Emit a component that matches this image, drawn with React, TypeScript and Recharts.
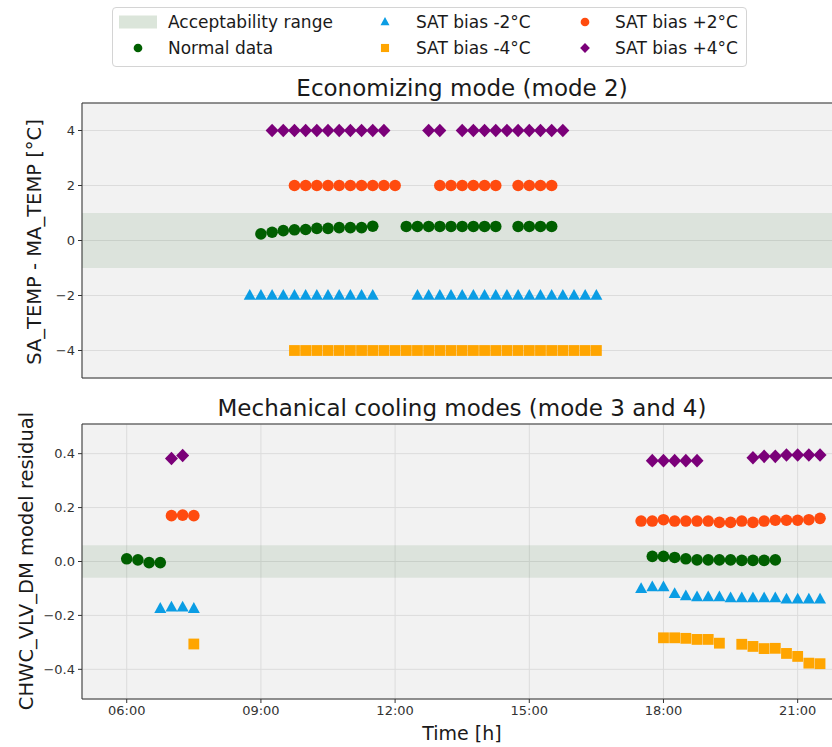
import React from 'react';
import {
  ScatterChart,
  Scatter,
  XAxis,
  YAxis,
  CartesianGrid,
  ReferenceArea,
  ReferenceLine,
} from 'recharts';

// ---- economizing mode (mode 2): SA_TEMP - MA_TEMP [°C] ----
const ECON_NORMAL_TIMES = [
  '09:00', '09:15', '09:30', '09:45', '10:00', '10:15', '10:30', '10:45', '11:00', '11:15', '11:30',
  '12:15', '12:30', '12:45', '13:00', '13:15', '13:30', '13:45', '14:00', '14:15',
  '14:45', '15:00', '15:15', '15:30',
];
const ECON_NORMAL_VALUES = [
  0.24, 0.3, 0.36, 0.39, 0.4, 0.44, 0.44, 0.47, 0.47, 0.47, 0.52,
  0.51, 0.51, 0.51, 0.51, 0.51, 0.51, 0.51, 0.51, 0.51,
  0.51, 0.51, 0.51, 0.51,
];
const ECON_MINUS2_TIMES = [
  '08:45', '09:00', '09:15', '09:30', '09:45', '10:00', '10:15', '10:30', '10:45', '11:00', '11:15', '11:30',
  '12:30', '12:45', '13:00', '13:15', '13:30', '13:45', '14:00', '14:15', '14:30', '14:45', '15:00',
  '15:15', '15:30', '15:45', '16:00', '16:15', '16:30',
];
const ECON_MINUS4_TIMES = [
  '09:45', '10:00', '10:15', '10:30', '10:45', '11:00', '11:15', '11:30', '11:45', '12:00', '12:15',
  '12:30', '12:45', '13:00', '13:15', '13:30', '13:45', '14:00', '14:15', '14:30', '14:45', '15:00',
  '15:15', '15:30', '15:45', '16:00', '16:15', '16:30',
];
const ECON_PLUS2_TIMES = [
  '09:45', '10:00', '10:15', '10:30', '10:45', '11:00', '11:15', '11:30', '11:45', '12:00',
  '13:00', '13:15', '13:30', '13:45', '14:00', '14:15',
  '14:45', '15:00', '15:15', '15:30',
];
const ECON_PLUS4_TIMES = [
  '09:15', '09:30', '09:45', '10:00', '10:15', '10:30', '10:45', '11:00', '11:15', '11:30', '11:45',
  '12:45', '13:00',
  '13:30', '13:45', '14:00', '14:15', '14:30', '14:45', '15:00', '15:15', '15:30', '15:45',
];
// the faulty series sit on a flat offset in this mode
const ECON_MINUS2_LEVEL = -2;
const ECON_MINUS4_LEVEL = -4;
const ECON_PLUS2_LEVEL = 2;
const ECON_PLUS4_LEVEL = 4;

// ---- mechanical cooling (mode 3 and 4): CHWC_VLV_DM model residual ----
const MECH_NORMAL_TIMES = [
  '06:00', '06:15', '06:30', '06:45',
  '17:45', '18:00', '18:15', '18:30', '18:45', '19:00', '19:15', '19:30', '19:45', '20:00', '20:15', '20:30',
];
const MECH_NORMAL_VALUES = [
  0.01, 0.006, -0.004, -0.004,
  0.019, 0.019, 0.015, 0.01, 0.006, 0.006, 0.006, 0.006, 0.004, 0.004, 0.004, 0.006,
];
const MECH_MINUS2_TIMES = [
  '06:45', '07:00', '07:15', '07:30',
  '17:30', '17:45', '18:00', '18:15', '18:30', '18:45', '19:00', '19:15', '19:30',
  '19:45', '20:00', '20:15', '20:30', '20:45', '21:00', '21:15', '21:30',
];
const MECH_MINUS2_VALUES = [
  -0.175, -0.17, -0.17, -0.175,
  -0.101, -0.095, -0.095, -0.12, -0.128, -0.132, -0.132, -0.132, -0.136,
  -0.136, -0.136, -0.136, -0.136, -0.14, -0.14, -0.14, -0.14,
];
const MECH_MINUS4_TIMES = [
  '07:30',
  '18:00', '18:15', '18:30', '18:45', '19:00', '19:15',
  '19:45', '20:00', '20:15', '20:30', '20:45', '21:00', '21:15', '21:30',
];
const MECH_MINUS4_VALUES = [
  -0.306,
  -0.283, -0.283, -0.285, -0.289, -0.289, -0.303,
  -0.307, -0.315, -0.323, -0.322, -0.341, -0.352, -0.377, -0.379,
];
const MECH_PLUS2_TIMES = [
  '07:00', '07:15', '07:30',
  '17:30', '17:45', '18:00', '18:15', '18:30', '18:45', '19:00', '19:15', '19:30',
  '19:45', '20:00', '20:15', '20:30', '20:45', '21:00', '21:15', '21:30',
];
const MECH_PLUS2_VALUES = [
  0.17, 0.172, 0.17,
  0.15, 0.15, 0.155, 0.15, 0.15, 0.15, 0.15, 0.145, 0.145,
  0.15, 0.145, 0.15, 0.153, 0.153, 0.153, 0.155, 0.16,
];
const MECH_PLUS4_TIMES = [
  '07:00', '07:15',
  '17:45', '18:00', '18:15', '18:30', '18:45',
  '20:00', '20:15', '20:30', '20:45', '21:00', '21:15', '21:30',
];
const MECH_PLUS4_VALUES = [
  0.382, 0.393,
  0.374, 0.374, 0.374, 0.374, 0.374,
  0.385, 0.39, 0.39, 0.395, 0.395, 0.395, 0.395,
];

const TIME_TICKS = [6, 9, 12, 15, 18, 21];
const ECON_TICKS = [-4, -2, 0, 2, 4];
const MECH_TICKS = [-0.4, -0.2, 0, 0.2, 0.4];
const ECON_BAND = [-1, 1];
const MECH_BAND = [-0.06, 0.06];

const FONT = '"DejaVu Sans", Verdana, sans-serif';
const COLORS = {
  normal: '#005f00',
  minus2: '#0b9de4',
  minus4: '#ffa500',
  plus2: '#ff4b0f',
  plus4: '#7b0079',
  band: '#3f7f3f',
  axis: '#333333',
  grid: '#dcdcdc',
  plotBg: '#f2f2f2',
};

type Kind = 'circle' | 'triangle' | 'square' | 'diamond';

const toHours = (t: string) => {
  const [hh, mm] = t.split(':').map(Number);
  return hh + mm / 60;
};
const pairs = (times: string[], values: number[]) => times.map((t, i) => ({ x: toHours(t), y: values[i] }));
const level = (times: string[], v: number) => times.map((t) => ({ x: toHours(t), y: v }));
const minus = (s: string) => s.replace('-', '\u2212');

function Marker({ kind, cx, cy, color, s = 1 }: { kind: Kind; cx: number; cy: number; color: string; s?: number }) {
  if (kind === 'circle') return <circle cx={cx} cy={cy} r={5.8 * s} fill={color} />;
  if (kind === 'square') {
    const h = 5.4 * s;
    return <rect x={cx - h} y={cy - h} width={2 * h} height={2 * h} fill={color} />;
  }
  if (kind === 'triangle') {
    const w = 6 * s;
    return <polygon points={`${cx},${cy - 6.6 * s} ${cx - w},${cy + 4.2 * s} ${cx + w},${cy + 4.2 * s}`} fill={color} />;
  }
  const d = 6.5 * s;
  return <polygon points={`${cx},${cy - d * 1.05} ${cx + d},${cy} ${cx},${cy + d * 1.05} ${cx - d},${cy}`} fill={color} />;
}

const shapeOf = (kind: Kind, color: string) => (props: any) => (
  <Marker kind={kind} cx={props.cx} cy={props.cy} color={color} />
);

interface SeriesDef {
  name: string;
  kind: Kind;
  color: string;
  data: { x: number; y: number }[];
}

const econSeries: SeriesDef[] = [
  { name: 'Normal data', kind: 'circle', color: COLORS.normal, data: pairs(ECON_NORMAL_TIMES, ECON_NORMAL_VALUES) },
  { name: 'SAT bias -2°C', kind: 'triangle', color: COLORS.minus2, data: level(ECON_MINUS2_TIMES, ECON_MINUS2_LEVEL) },
  { name: 'SAT bias -4°C', kind: 'square', color: COLORS.minus4, data: level(ECON_MINUS4_TIMES, ECON_MINUS4_LEVEL) },
  { name: 'SAT bias +2°C', kind: 'circle', color: COLORS.plus2, data: level(ECON_PLUS2_TIMES, ECON_PLUS2_LEVEL) },
  { name: 'SAT bias +4°C', kind: 'diamond', color: COLORS.plus4, data: level(ECON_PLUS4_TIMES, ECON_PLUS4_LEVEL) },
];

const mechSeries: SeriesDef[] = [
  { name: 'Normal data', kind: 'circle', color: COLORS.normal, data: pairs(MECH_NORMAL_TIMES, MECH_NORMAL_VALUES) },
  { name: 'SAT bias -2°C', kind: 'triangle', color: COLORS.minus2, data: pairs(MECH_MINUS2_TIMES, MECH_MINUS2_VALUES) },
  { name: 'SAT bias -4°C', kind: 'square', color: COLORS.minus4, data: pairs(MECH_MINUS4_TIMES, MECH_MINUS4_VALUES) },
  { name: 'SAT bias +2°C', kind: 'circle', color: COLORS.plus2, data: pairs(MECH_PLUS2_TIMES, MECH_PLUS2_VALUES) },
  { name: 'SAT bias +4°C', kind: 'diamond', color: COLORS.plus4, data: pairs(MECH_PLUS4_TIMES, MECH_PLUS4_VALUES) },
];

const tickStyle = { fill: '#333', fontSize: 13, fontFamily: FONT };

function ModePanel({
  series, yDomain, yTicks, band, fmtY, showTimeLabels, height, marginTop,
}: {
  series: SeriesDef[];
  yDomain: [number, number];
  yTicks: number[];
  band: number[];
  fmtY: (v: number) => string;
  showTimeLabels: boolean;
  height: number;
  marginTop: number;
}) {
  const xAxisHeight = showTimeLabels ? 30 : 20;
  return (
    <ScatterChart
      width={860}
      height={height}
      margin={{ top: marginTop, right: 17.6, bottom: height - marginTop - 275 - xAxisHeight, left: 32 }}
    >
      <CartesianGrid stroke={COLORS.grid} fill={COLORS.plotBg} fillOpacity={1} />
      <ReferenceArea y1={band[0]} y2={band[1]} fill={COLORS.band} fillOpacity={0.12} stroke="none" />
      <XAxis
        type="number"
        dataKey="x"
        domain={[5, 22]}
        ticks={TIME_TICKS}
        allowDataOverflow
        height={xAxisHeight}
        tickFormatter={(v: number) => `${String(v).padStart(2, '0')}:00`}
        tick={showTimeLabels ? tickStyle : false}
        tickSize={4}
        tickMargin={3}
        stroke={COLORS.axis}
      />
      <YAxis
        type="number"
        dataKey="y"
        domain={yDomain}
        ticks={yTicks}
        allowDataOverflow
        width={50}
        tickFormatter={fmtY}
        tick={tickStyle}
        tickSize={4}
        tickMargin={3}
        stroke={COLORS.axis}
      />
      <ReferenceLine y={yDomain[1]} stroke={COLORS.axis} strokeWidth={1} />
      {series.map((s) => (
        <Scatter
          key={s.name}
          name={s.name}
          data={s.data}
          fill={s.color}
          shape={shapeOf(s.kind, s.color)}
          isAnimationActive={false}
        />
      ))}
    </ScatterChart>
  );
}

const legendItems: { label: string; kind: Kind | 'patch'; color: string; left: number; row: number }[] = [
  { label: 'Acceptability range', kind: 'patch', color: '#dbe5da', left: 0, row: 0 },
  { label: 'Normal data', kind: 'circle', color: COLORS.normal, left: 0, row: 1 },
  { label: 'SAT bias -2°C', kind: 'triangle', color: COLORS.minus2, left: 1, row: 0 },
  { label: 'SAT bias -4°C', kind: 'square', color: COLORS.minus4, left: 1, row: 1 },
  { label: 'SAT bias +2°C', kind: 'circle', color: COLORS.plus2, left: 2, row: 0 },
  { label: 'SAT bias +4°C', kind: 'diamond', color: COLORS.plus4, left: 2, row: 1 },
];
const LEGEND_MARKER_X = [138, 385, 585];
const LEGEND_TEXT_X = [168, 416, 615];
const LEGEND_ROW_Y = [22, 48];

function LegendBox() {
  return (
    <>
      <div
        style={{
          position: 'absolute', left: 112, top: 7, width: 633, height: 58,
          border: '1px solid #d4d4d4', borderRadius: 4, background: '#fff',
        }}
      />
      <svg style={{ position: 'absolute', left: 0, top: 0 }} width={832} height={70}>
        {legendItems.map((it) => {
          const cx = LEGEND_MARKER_X[it.left];
          const cy = LEGEND_ROW_Y[it.row];
          return (
            <g key={it.label}>
              {it.kind === 'patch' ? (
                <rect x={cx - 19} y={cy - 6.5} width={38} height={13} fill={it.color} />
              ) : (
                <Marker kind={it.kind} cx={cx} cy={cy} color={it.color} s={0.75} />
              )}
              <text
                x={LEGEND_TEXT_X[it.left]}
                y={cy}
                dominantBaseline="central"
                fontSize={17}
                fontFamily={FONT}
                fill="#1a1a1a"
              >
                {it.label}
              </text>
            </g>
          );
        })}
      </svg>
    </>
  );
}

const textAbs = (cx: number, cy: number, size: number, rotate = false): React.CSSProperties => ({
  position: 'absolute',
  left: cx,
  top: cy,
  transform: `translate(-50%, -50%)${rotate ? ' rotate(-90deg)' : ''}`,
  whiteSpace: 'nowrap',
  fontSize: size,
  fontFamily: FONT,
  color: '#1a1a1a',
  lineHeight: 1,
});

export default function App() {
  return (
    <div
      style={{
        position: 'absolute', left: 0, top: 0, width: 832, height: 747,
        overflow: 'hidden', background: '#fff', fontFamily: FONT,
      }}
    >
      <div style={{ position: 'absolute', left: 0, top: 0 }}>
        <ModePanel
          series={econSeries}
          yDomain={[-5, 5]}
          yTicks={ECON_TICKS}
          band={ECON_BAND}
          fmtY={(v) => minus(String(v))}
          showTimeLabels={false}
          height={400}
          marginTop={103}
        />
      </div>
      <div style={{ position: 'absolute', left: 0, top: 400 }}>
        <ModePanel
          series={mechSeries}
          yDomain={[-0.51, 0.51]}
          yTicks={MECH_TICKS}
          band={MECH_BAND}
          fmtY={(v) => minus(v.toFixed(1))}
          showTimeLabels
          height={347}
          marginTop={24}
        />
      </div>

      <div style={textAbs(462, 88, 23)}>Economizing mode (mode 2)</div>
      <div style={textAbs(462, 408, 23)}>Mechanical cooling modes (mode 3 and 4)</div>
      <div style={textAbs(35, 242, 19.5, true)}>SA_TEMP - MA_TEMP [°C]</div>
      <div style={textAbs(27, 561, 19.5, true)}>CHWC_VLV_DM model residual</div>
      <div style={textAbs(462, 733, 19)}>Time [h]</div>

      <LegendBox />
    </div>
  );
}
